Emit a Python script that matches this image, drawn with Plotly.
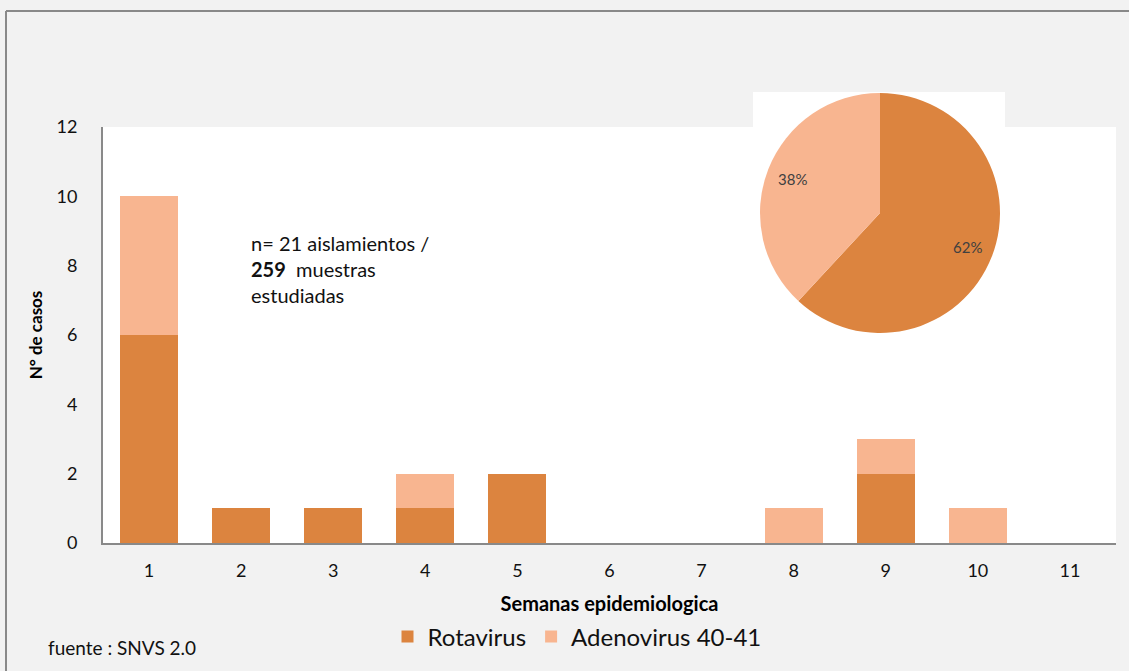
import math
import plotly.graph_objects as go

semanas = ["1", "2", "3", "4", "5", "6", "7", "8", "9", "10", "11"]
rotavirus = [6, 1, 1, 1, 2, 0, 0, 0, 2, 0, 0]
adenovirus = [4, 0, 0, 1, 0, 0, 0, 1, 1, 1, 0]
pie_labels = ["Rotavirus", "Adenovirus 40-41"]
pie_values = [sum(rotavirus), sum(adenovirus)]
y_ticks = [0, 2, 4, 6, 8, 10, 12]

C_ROTA = "#DC843F"
C_ADENO = "#F8B590"
FONT = "Lato"

W, H = 1129, 671
ML, MR, MT, MB = 103, 13, 60, 128
PW, PH = W - ML - MR, H - MT - MB

def px_x(x):
    return (x - ML) / PW

def px_y(y):
    return (H - MB - y) / PH

# pie placement (pixels)
PIE_L, PIE_R, PIE_T, PIE_B = 760, 1000, 93, 333
PCX, PCY, PR = (PIE_L + PIE_R) / 2, (PIE_T + PIE_B) / 2, (PIE_R - PIE_L) / 2

fig = go.Figure()
fig.add_trace(go.Bar(x=semanas, y=rotavirus, name="Rotavirus",
                     marker=dict(color=C_ROTA, line=dict(width=0))))
fig.add_trace(go.Bar(x=semanas, y=adenovirus, name="Adenovirus 40-41",
                     marker=dict(color=C_ADENO, line=dict(width=0))))

fig.add_trace(go.Pie(labels=pie_labels, values=pie_values, sort=False,
                     direction="clockwise", rotation=0,
                     marker=dict(colors=[C_ROTA, C_ADENO], line=dict(width=0)),
                     textinfo="none", showlegend=False, hoverinfo="skip",
                     domain=dict(x=[px_x(PIE_L), px_x(PIE_R)], y=[px_y(PIE_B), px_y(PIE_T)])))

# percent labels placed at the slice mid-angles
annotations = []
total = sum(pie_values)
start = 0.0
for v in pie_values:
    frac = v / total
    mid = (start + frac / 2) * 2 * math.pi
    start += frac
    lx = PCX + 0.78 * PR * math.sin(mid)
    ly = PCY - 0.78 * PR * math.cos(mid)
    annotations.append(dict(text=f"{round(frac * 100)}%", xref="paper", yref="paper",
                            x=px_x(lx), y=px_y(ly), xanchor="center", yanchor="middle",
                            showarrow=False, font=dict(size=15, color="#404040")))

annotations += [
    dict(text="n= 21 aislamientos /<br><b>259</b>  muestras<br>estudiadas",
         xref="paper", yref="paper", x=px_x(249), y=px_y(229),
         xanchor="left", yanchor="top", align="left", showarrow=False,
         font=dict(size=20, color="#111111")),
    dict(text="fuente : SNVS 2.0", xref="paper", yref="paper",
         x=px_x(46), y=px_y(647), xanchor="left", yanchor="middle",
         showarrow=False, font=dict(size=19, color="#111111")),
]

fig.update_layout(
    width=W, height=H,
    margin=dict(l=ML, r=MR, t=MT, b=MB),
    paper_bgcolor="#F2F2F2", plot_bgcolor="#FFFFFF",
    barmode="stack", bargap=0.37,
    font=dict(family=FONT, size=18, color="#111111"),
    xaxis=dict(showgrid=False, showline=True, linecolor="#898989", linewidth=2,
               ticks="outside", ticklen=10, tickcolor="rgba(0,0,0,0)",
               tickfont=dict(size=18), zeroline=False,
               title=dict(text="<b>Semanas epidemiologica</b>",
                          font=dict(size=20, color="#000000"), standoff=17)),
    yaxis=dict(range=[0, 12], tickvals=y_ticks, showgrid=False, showline=True,
               linecolor="#898989", linewidth=2, zeroline=False,
               ticks="outside", ticklen=20, tickcolor="rgba(0,0,0,0)",
               tickfont=dict(size=18), domain=[0, px_y(127)],
               title=dict(text="<b>N° de casos</b>",
                          font=dict(size=17, color="#000000"), standoff=10)),
    legend=dict(orientation="h", x=px_x(577), xanchor="center", y=px_y(637), yanchor="middle",
                font=dict(size=24, color="#111111"), bgcolor="rgba(0,0,0,0)",
                traceorder="normal", itemwidth=30),
    shapes=[
        dict(type="rect", xref="paper", yref="paper", layer="below",
             x0=px_x(753), x1=px_x(1005), y0=px_y(127), y1=px_y(92),
             fillcolor="#FFFFFF", line=dict(width=0)),
        dict(type="line", xref="paper", yref="paper", layer="above",
             x0=px_x(6), x1=px_x(1129), y0=px_y(11), y1=px_y(11),
             line=dict(color="#898989", width=2)),
        dict(type="line", xref="paper", yref="paper", layer="above",
             x0=px_x(6), x1=px_x(6), y0=px_y(11), y1=px_y(671),
             line=dict(color="#898989", width=2)),
    ],
    annotations=annotations,
)

fig.write_html("out.html", config={"displayModeBar": False})
